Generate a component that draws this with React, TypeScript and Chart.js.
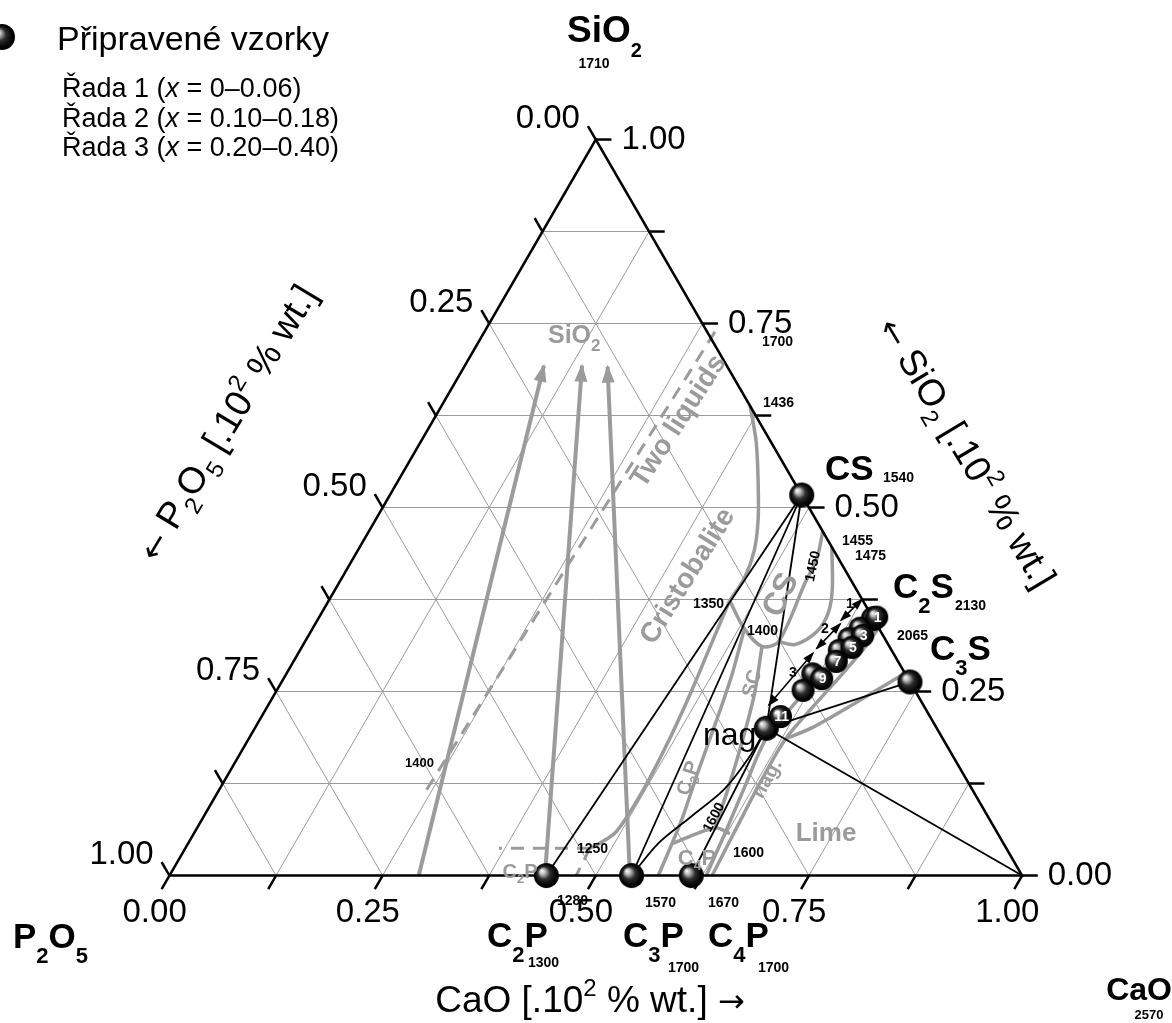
import React, { useEffect, useRef } from "react";
import { Chart, registerables } from "chart.js";

Chart.register(...registerables);

type Pair = [number, number]; // [CaO, SiO2] weight fractions, P2O5 = remainder

// ---------- axes ----------
const gridFractions = [0.125, 0.25, 0.375, 0.5, 0.625, 0.75, 0.875];
const tickFractions = [0, 0.125, 0.25, 0.375, 0.5, 0.625, 0.75, 0.875, 1];
const tickLabels = ["0.00", "", "0.25", "", "0.50", "", "0.75", "", "1.00"];

// ---------- phases (CaO, SiO2 fractions) ----------
const compoundNames = ["CS", "C2S", "C3S", "C2P", "C3P", "C4P", "nag"];
const compoundCaO = [0.483, 0.651, 0.737, 0.442, 0.542, 0.612, 0.6];
const compoundSiO2 = [0.517, 0.349, 0.263, 0, 0, 0, 0.2];
const oxideNames = ["P2O5", "SiO2", "CaO"];
const oxideCaO = [0, 0, 1];
const oxideSiO2 = [0, 1, 0];

// ---------- prepared samples ----------
const sampleTags = ["1", "2", "3", "4", "5", "6", "7", "8", "9", "10", "11"];
const sampleShown = [true, false, true, false, true, false, true, false, true, false, true];
const sampleCaO = [0.654, 0.642, 0.65, 0.636, 0.6455, 0.6326, 0.6366, 0.6175, 0.6312, 0.6173, 0.6087];
const sampleSiO2 = [0.351, 0.336, 0.326, 0.322, 0.31, 0.306, 0.291, 0.274, 0.2675, 0.2517, 0.216];

// ---------- joins between phases ----------
const tieLines: [string, string][] = [
  ["CS", "C2P"],
  ["CS", "C3P"],
  ["CS", "nag"],
  ["nag", "C3S"],
  ["nag", "CaO"],
  ["C4P", "nag"],
];
const join1600: Pair[] = [[0.542, 0], [0.5515, 0.0437], [0.5715, 0.0795], [0.5919, 0.1166], [0.5994, 0.1589], [0.6, 0.2]];

// ---------- liquidus boundaries ----------
const cristobaliteBoundary: Pair[] = [[0.362, 0.638], [0.3934, 0.5894], [0.4222, 0.5364], [0.4487, 0.4834], [0.4652, 0.4411], [0.4723, 0.404], [0.4703, 0.3735]];
const boundary1250: Pair[] = [[0.4703, 0.3735], [0.4786, 0.3113], [0.4876, 0.245], [0.4945, 0.1762], [0.4976, 0.1126], [0.4943, 0.0596], [0.4827, 0.0437], [0.4746, 0.0371]];
const c2pTop: Pair[] = [[0.4746, 0.0371], [0.3679, 0.0371]];
const c2pSide: Pair[] = [[0.4746, 0.0371], [0.4771, 0]];
const twoLiquids: Pair[] = [[0.2433, 0.1166], [0.2704, 0.7391]];
const csField: Pair[] = [[0.4703, 0.3735], [0.5068, 0.3351], [0.5393, 0.3113], [0.5555, 0.3179], [0.5467, 0.3974], [0.544, 0.4305], [0.5325, 0.4675]];
const c3s2Field: Pair[] = [[0.5536, 0.4464], [0.5821, 0.3907], [0.5941, 0.3576], [0.5936, 0.3311], [0.5769, 0.3139], [0.5555, 0.3179]];
const scLeft: Pair[] = [[0.5068, 0.3351], [0.5236, 0.2715], [0.5373, 0.2053], [0.5498, 0.1391], [0.5634, 0.0728], [0.5734, 0]];
const scRight: Pair[] = [[0.5393, 0.3113], [0.5633, 0.245], [0.5815, 0.1788], [0.5974, 0.1126], [0.6074, 0.0649]];
const c4pField: Pair[] = [[0.5687, 0.0437], [0.6074, 0.0649], [0.6286, 0.057]];
const nagLeft: Pair[] = [[0.6296, 0], [0.6229, 0.057], [0.6137, 0.1258], [0.6068, 0.1854], [0.6167, 0.2344], [0.6304, 0.2874], [0.6414, 0.3272], [0.6492, 0.3483]];
const nagRight: Pair[] = [[0.6365, 0], [0.6332, 0.057], [0.6296, 0.1285], [0.6298, 0.1854], [0.64, 0.2291], [0.6529, 0.2768], [0.6609, 0.3113], [0.6637, 0.3377]];
const limeBoundary: Pair[] = [[0.722, 0.2715], [0.6996, 0.2477], [0.6771, 0.2238], [0.6539, 0.2013], [0.6298, 0.1854]];

// ---------- composition shifts ----------
const silicaArrows: Pair[][] = [
  [[0.2924, 0], [0.0928, 0.6927]],
  [[0.4404, 0], [0.1375, 0.6927]],
  [[0.54, 0], [0.1681, 0.6914]],
];
const seriesArrows: Pair[][] = [
  [[0.6245, 0.3748], [0.6143, 0.347]],
  [[0.6158, 0.3417], [0.6049, 0.3086]],
  [[0.6036, 0.302], [0.5871, 0.2318]],
];
const seriesArrowTags = ["1", "2", "3"];

// ---------- drawing helpers ----------
const W = 1172;
const H = 1023;
const FRAME_LEFT = 160;
const FRAME_BASE = 885;
const FRAME_SIDE = 872;
const SQ = Math.sqrt(3) / 2;
const GRAY = "#9b9b9b";
const FONT = '"Liberation Sans", Arial, Helvetica, sans-serif';
const ARROW_FONT = '"DejaVu Sans", sans-serif';
const TICK = 16 / FRAME_SIDE;

const tern = (c: number, s: number) => ({ x: c + s / 2, y: s * SQ });
const pairPts = (p: Pair[]) => p.map(([c, s]) => tern(c, s));

function lookup(name: string): Pair {
  const i = compoundNames.indexOf(name);
  if (i >= 0) return [compoundCaO[i], compoundSiO2[i]];
  const j = oxideNames.indexOf(name);
  return [oxideCaO[j], oxideSiO2[j]];
}

function lineDs(points: { x: number; y: number }[], color: string, width: number, order: number, extra: any = {}) {
  return {
    data: points,
    showLine: true,
    borderColor: color,
    backgroundColor: color,
    borderWidth: width,
    pointRadius: 0,
    tension: 0,
    fill: false,
    order,
    ...extra,
  };
}

function makeSphere(r: number) {
  const d = Math.ceil(r * 2) + 2;
  const cv = document.createElement("canvas");
  cv.width = d;
  cv.height = d;
  const g = cv.getContext("2d")!;
  const c = d / 2;
  const grad = g.createRadialGradient(c - r * 0.38, c - r * 0.38, r * 0.04, c, c, r);
  grad.addColorStop(0, "#f6f6f6");
  grad.addColorStop(0.2, "#b9b9b9");
  grad.addColorStop(0.48, "#2e2e2e");
  grad.addColorStop(0.8, "#060606");
  grad.addColorStop(1, "#000");
  g.fillStyle = grad;
  g.beginPath();
  g.arc(c, c, r, 0, Math.PI * 2);
  g.fill();
  return cv;
}

type Run = { t: string; size: number; bold?: boolean; italic?: boolean; dy?: number; family?: string };
type Note = { runs: Run[]; x: number; y: number; align?: "left" | "center" | "right"; angle?: number; color?: string; mid?: boolean };

const R = (t: string, size: number): Run => ({ t, size });
const B = (t: string, size: number): Run => ({ t, size, bold: true });
const Bs = (t: string, size: number, dy: number): Run => ({ t, size, bold: true, dy });
const Rs = (t: string, size: number, dy: number): Run => ({ t, size, dy });
const Arrow = (t: string, size: number): Run => ({ t, size, family: ARROW_FONT });
const fontOf = (r: Run) => `${r.italic ? "italic " : ""}${r.bold ? "bold " : ""}${r.size}px ${r.family || FONT}`;

function drawRuns(ctx: CanvasRenderingContext2D, n: Note) {
  ctx.save();
  ctx.translate(n.x, n.y);
  if (n.angle) ctx.rotate((n.angle * Math.PI) / 180);
  ctx.fillStyle = n.color || "#000";
  ctx.textBaseline = "alphabetic";
  ctx.textAlign = "left";
  let total = 0;
  const widths = n.runs.map((r) => {
    ctx.font = fontOf(r);
    const w = ctx.measureText(r.t).width;
    total += w;
    return w;
  });
  let cx = n.align === "center" ? -total / 2 : n.align === "right" ? -total : 0;
  const shift = n.mid ? n.runs[n.runs.length - 1].size * 0.36 : 0;
  n.runs.forEach((r, i) => {
    ctx.font = fontOf(r);
    ctx.fillText(r.t, cx, (r.dy || 0) + shift);
    cx += widths[i];
  });
  ctx.restore();
}

const TITLE = 37;
const SUP = 24;
const LEG = 27;

const notes: Note[] = [
  // legend
  { runs: [R("Připravené vzorky", 34)], x: 57, y: 50 },
  { runs: [R("Řada 1 (", LEG), { t: "x", size: LEG, italic: true }, R(" = 0–0.06)", LEG)], x: 62, y: 97 },
  { runs: [R("Řada 2 (", LEG), { t: "x", size: LEG, italic: true }, R(" = 0.10–0.18)", LEG)], x: 62, y: 127 },
  { runs: [R("Řada 3 (", LEG), { t: "x", size: LEG, italic: true }, R(" = 0.20–0.40)", LEG)], x: 62, y: 156 },
  // apexes
  { runs: [B("SiO", 37), Bs("2", 20, 15)], x: 567, y: 42 },
  { runs: [B("1710", 14)], x: 594, y: 68, align: "center" },
  { runs: [B("P", 35), Bs("2", 22, 15), B("O", 35), Bs("5", 22, 15)], x: 13, y: 948 },
  { runs: [B("CaO", 32)], x: 1172, y: 1000, align: "right" },
  { runs: [B("2570", 13)], x: 1149, y: 1019, align: "center" },
  // axis titles
  { runs: [R("CaO [.10", TITLE), Rs("2", SUP, -16), R(" % wt.] ", TITLE), Arrow("→", 32)], x: 590, y: 1012, align: "center" },
  { runs: [Arrow("←", 32), R(" P", TITLE), Rs("2", SUP, 10), R("O", TITLE), Rs("5", SUP, 10), R(" [.10", TITLE), Rs("2", SUP, -16), R(" % wt.]", TITLE)], x: 226, y: 422, align: "center", angle: -59, mid: true },
  { runs: [Arrow("←", 32), R(" SiO", TITLE), Rs("2", SUP, 10), R(" [.10", TITLE), Rs("2", SUP, -16), R(" % wt.]", TITLE)], x: 968, y: 452, align: "center", angle: 59, mid: true },
  // compounds
  { runs: [B("CS", 35)], x: 825, y: 480 },
  { runs: [B("1540", 14)], x: 883, y: 482 },
  { runs: [B("C", 35), Bs("2", 22, 15), B("S", 35)], x: 893, y: 598 },
  { runs: [B("2130", 14)], x: 955, y: 610 },
  { runs: [B("C", 35), Bs("3", 22, 15), B("S", 35)], x: 930, y: 660 },
  { runs: [B("2065", 14)], x: 897, y: 640 },
  { runs: [R("nag", 32)], x: 703, y: 745 },
  { runs: [B("C", 35), Bs("2", 22, 15), B("P", 35)], x: 487, y: 947 },
  { runs: [B("1300", 14)], x: 528, y: 967 },
  { runs: [B("C", 35), Bs("3", 22, 15), B("P", 35)], x: 623, y: 947 },
  { runs: [B("1700", 14)], x: 668, y: 972 },
  { runs: [B("C", 35), Bs("4", 22, 15), B("P", 35)], x: 708, y: 947 },
  { runs: [B("1700", 14)], x: 758, y: 972 },
  // temperatures
  { runs: [B("1280", 14)], x: 557, y: 905 },
  { runs: [B("1570", 14)], x: 645, y: 907 },
  { runs: [B("1670", 14)], x: 708, y: 907 },
  { runs: [B("1250", 14)], x: 577, y: 853 },
  { runs: [B("1600", 14)], x: 733, y: 857 },
  { runs: [B("1600", 14)], x: 713, y: 817, align: "center", angle: -62, mid: true },
  { runs: [B("1450", 14)], x: 812, y: 566, align: "center", angle: -78, mid: true },
  { runs: [B("1350", 14)], x: 693, y: 608 },
  { runs: [B("1400", 14)], x: 747, y: 635 },
  { runs: [B("1455", 14)], x: 842, y: 545 },
  { runs: [B("1475", 14)], x: 855, y: 560 },
  { runs: [B("1436", 14)], x: 763, y: 407 },
  { runs: [B("1700", 14)], x: 762, y: 346 },
  { runs: [B("1400", 13)], x: 405, y: 767 },
  // primary phase fields
  { runs: [B("SiO", 25), Bs("2", 17, 8)], x: 548, y: 343, color: GRAY },
  { runs: [B("Two liquids", 28)], x: 677, y: 420, align: "center", angle: -57, mid: true, color: GRAY },
  { runs: [B("Cristobalite", 28)], x: 686, y: 575, align: "center", angle: -58, mid: true, color: GRAY },
  { runs: [B("CS", 32)], x: 779, y: 594, align: "center", angle: -65, mid: true, color: GRAY },
  { runs: [B("SC", 20)], x: 751, y: 683, align: "center", angle: -75, mid: true, color: GRAY },
  { runs: [B("C", 20), Bs("3", 13, 5), B("P", 20)], x: 687, y: 778, align: "center", angle: -72, mid: true, color: GRAY },
  { runs: [B("C", 22), Bs("4", 14, 5), B("P", 22)], x: 697, y: 857, align: "center", mid: true, color: GRAY },
  { runs: [B("C", 20), Bs("2", 13, 5), B("P", 20)], x: 520, y: 871, align: "center", mid: true, color: GRAY },
  { runs: [B("nag.", 20)], x: 766, y: 778, align: "center", angle: -60, mid: true, color: GRAY },
  { runs: [B("Lime", 26)], x: 826, y: 832, align: "center", mid: true, color: GRAY },
];

function buildDatasets(bigSphere: HTMLCanvasElement, smallSphere: HTMLCanvasElement) {
  const ds: any[] = [];
  // grid
  gridFractions.forEach((f) => {
    ds.push(lineDs([tern(0, f), tern(1 - f, f)], GRAY, 1, 95));
    ds.push(lineDs([tern(f, 0), tern(f, 1 - f)], GRAY, 1, 95));
    ds.push(lineDs([tern(1 - f, 0), tern(0, 1 - f)], GRAY, 1, 95));
  });
  // frame
  ds.push(lineDs([tern(0, 0), tern(1, 0), tern(0, 1), tern(0, 0)], "#000", 2.5, 40));
  // ticks (CaO along the base, P2O5 along the left side, SiO2 along the right side)
  tickFractions.forEach((f, i) => {
    const b = tern(f, 0);
    ds.push(lineDs([b, { x: b.x - 0.5 * TICK, y: b.y - SQ * TICK }], "#000", 2.5, 40, { axisTick: "bottom", tickLabel: tickLabels[i] }));
    const l = tern(0, 1 - f);
    ds.push(lineDs([l, { x: l.x - 0.5 * TICK, y: l.y + SQ * TICK }], "#000", 2.5, 40, { axisTick: "left", tickLabel: tickLabels[i] }));
    const r = tern(1 - f, f);
    ds.push(lineDs([r, { x: r.x + TICK, y: r.y }], "#000", 2.5, 40, { axisTick: "right", tickLabel: tickLabels[i] }));
  });
  // boundaries
  const curves = [cristobaliteBoundary, boundary1250, csField, c3s2Field, scLeft, scRight, c4pField, nagLeft, nagRight, limeBoundary];
  curves.forEach((c) => ds.push(lineDs(pairPts(c), GRAY, 3.5, 60, { tension: 0.3 })));
  [c2pTop, c2pSide, twoLiquids].forEach((c) => ds.push(lineDs(pairPts(c), GRAY, 3, 60, { borderDash: [13, 9] })));
  silicaArrows.forEach((a) => ds.push(lineDs(pairPts(a), GRAY, 4, 55, { arrowHead: { length: 16, width: 13, both: false } })));
  // joins
  tieLines.forEach(([a, b]) => ds.push(lineDs(pairPts([lookup(a), lookup(b)]), "#000", 1.8, 30)));
  ds.push(lineDs(pairPts(join1600), "#000", 1.8, 30, { tension: 0.3 }));
  seriesArrows.forEach((a) => ds.push(lineDs(pairPts(a), "#000", 1.6, 25, { arrowHead: { length: 10, width: 8, both: true } })));
  // phases
  ds.push({
    data: compoundNames.map((_, i) => tern(compoundCaO[i], compoundSiO2[i])),
    showLine: false,
    pointStyle: bigSphere,
    pointRadius: 12,
    order: 10,
  });
  // samples: unlabelled behind, labelled in front
  const idxBack = sampleTags.map((_, i) => i).filter((i) => !sampleShown[i]);
  const idxFront = sampleTags.map((_, i) => i).filter((i) => sampleShown[i]);
  ds.push({ data: idxBack.map((i) => tern(sampleCaO[i], sampleSiO2[i])), showLine: false, pointStyle: smallSphere, pointRadius: 11, order: 6 });
  ds.push({
    data: idxFront.map((i) => tern(sampleCaO[i], sampleSiO2[i])),
    showLine: false,
    pointStyle: smallSphere,
    pointRadius: 11,
    order: 5,
    sampleText: idxFront.map((i) => sampleTags[i]),
  });
  return ds;
}

const decorPlugin = {
  id: "ternaryDecor",
  afterDatasetDraw(chart: any, args: any) {
    const ds = chart.data.datasets[args.index];
    if (!ds.arrowHead) return;
    const ctx: CanvasRenderingContext2D = chart.ctx;
    const pts = args.meta.data;
    const n = pts.length;
    const head = (tip: any, from: any) => {
      const a = Math.atan2(tip.y - from.y, tip.x - from.x);
      ctx.save();
      ctx.translate(tip.x, tip.y);
      ctx.rotate(a);
      ctx.beginPath();
      ctx.moveTo(2, 0);
      ctx.lineTo(-ds.arrowHead.length, ds.arrowHead.width / 2);
      ctx.lineTo(-ds.arrowHead.length, -ds.arrowHead.width / 2);
      ctx.closePath();
      ctx.fillStyle = ds.borderColor;
      ctx.fill();
      ctx.restore();
    };
    head(pts[n - 1], pts[n - 2]);
    if (ds.arrowHead.both) head(pts[0], pts[1]);
  },
  afterDatasetsDraw(chart: any) {
    const ctx: CanvasRenderingContext2D = chart.ctx;
    const sphere = chart.$legendSphere as HTMLCanvasElement;
    // legend marker
    if (sphere) ctx.drawImage(sphere, 2 - sphere.width / 2, 37 - sphere.height / 2);
    // tick labels
    chart.data.datasets.forEach((ds: any, i: number) => {
      if (!ds.axisTick || !ds.tickLabel) return;
      const end = chart.getDatasetMeta(i).data[1];
      const note: Note = { runs: [R(ds.tickLabel, 33)], x: 0, y: 0 };
      if (ds.axisTick === "bottom") {
        note.x = end.x - 7;
        note.y = end.y + 33;
        note.align = "center";
      } else if (ds.axisTick === "left") {
        note.x = end.x - 8;
        note.y = end.y + 1.5;
        note.align = "right";
      } else {
        note.x = end.x + 10;
        note.y = end.y + 9;
      }
      drawRuns(ctx, note);
    });
    // sample numbers
    chart.data.datasets.forEach((ds: any, i: number) => {
      if (!ds.sampleText) return;
      const pts = chart.getDatasetMeta(i).data;
      ctx.save();
      ctx.fillStyle = "#fff";
      ctx.font = `bold 14px ${FONT}`;
      ctx.textAlign = "center";
      ctx.textBaseline = "middle";
      pts.forEach((p: any, k: number) => ctx.fillText(ds.sampleText[k], p.x + 1, p.y + 1));
      ctx.restore();
    });
    // series arrow numbers
    const arrowTagPos = [
      [850, 608],
      [825, 633],
      [793, 677],
    ];
    seriesArrowTags.forEach((t, k) =>
      drawRuns(ctx, { runs: [B(t, 14)], x: arrowTagPos[k][0], y: arrowTagPos[k][1], align: "center" })
    );
    notes.forEach((n) => drawRuns(ctx, n));
  },
};

export default function App() {
  const ref = useRef<HTMLCanvasElement | null>(null);
  useEffect(() => {
    if (!ref.current) return;
    const bigSphere = makeSphere(12.5);
    const smallSphere = makeSphere(11.5);
    const chart: any = new Chart(ref.current, {
      type: "scatter",
      data: { datasets: buildDatasets(bigSphere, smallSphere) },
      options: {
        responsive: false,
        animation: false,
        devicePixelRatio: 1,
        events: [],
        layout: { padding: 0 },
        plugins: { legend: { display: false }, tooltip: { enabled: false } },
        scales: {
          x: { type: "linear", display: false, min: -FRAME_LEFT / FRAME_SIDE, max: (W - FRAME_LEFT) / FRAME_SIDE },
          y: { type: "linear", display: false, min: -(H - FRAME_BASE) / FRAME_SIDE, max: FRAME_BASE / FRAME_SIDE },
        },
      } as any,
      plugins: [decorPlugin],
    });
    chart.$legendSphere = makeSphere(13);
    chart.draw();
    return () => chart.destroy();
  }, []);
  return (
    <div style={{ position: "absolute", left: 0, top: 0, width: W, height: H, background: "#fff" }}>
      <canvas ref={ref} width={W} height={H} style={{ display: "block" }} />
    </div>
  );
}
